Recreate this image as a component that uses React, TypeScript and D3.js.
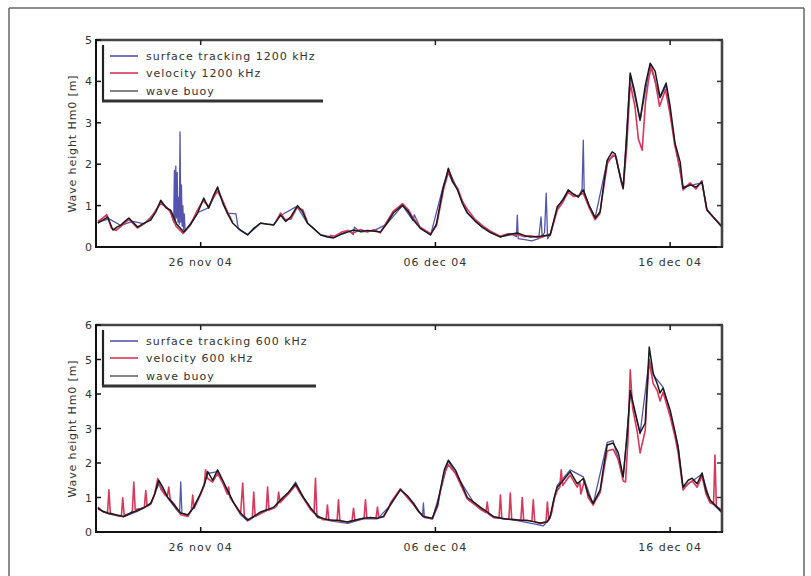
import React from "react";
import * as d3 from "d3";

// time in days relative to 26 nov 2004 00:00, value = Hm0 [m]
const xTickDays = [0, 10, 20];
const xTickLabels = ["26 nov 04", "06 dec 04", "16 dec 04"];
const xDomain = [-4.46, 22.21];

const legendTop = ["surface tracking 1200 kHz", "velocity 1200 kHz", "wave buoy"];
const legendBottom = ["surface tracking 600 kHz", "velocity 600 kHz", "wave buoy"];

const buoyTop: [number, number][] = [
  [-4.38,0.58],[-4.17,0.65],[-3.96,0.72],[-3.74,0.41],[-3.57,0.48],[-3.40,0.53],[-3.23,0.62],[-3.06,0.70],
  [-2.89,0.60],[-2.68,0.48],[-2.43,0.57],[-2.13,0.65],[-1.91,0.85],[-1.70,1.13],[-1.49,0.95],[-1.28,0.89],
  [-1.02,0.55],[-0.72,0.36],[-0.43,0.55],[-0.13,0.82],[0.13,1.18],[0.34,0.94],[0.55,1.25],[0.72,1.45],
  [0.94,1.06],[1.15,0.80],[1.36,0.58],[1.70,0.40],[2.00,0.29],[2.26,0.45],[2.55,0.58],[2.85,0.55],
  [3.11,0.53],[3.40,0.77],[3.62,0.62],[3.83,0.72],[4.13,1.00],[4.34,0.85],[4.55,0.58],[4.81,0.45],
  [5.11,0.29],[5.40,0.24],[5.66,0.22],[5.96,0.30],[6.26,0.36],[6.51,0.41],[6.81,0.38],[7.11,0.40],
  [7.40,0.38],[7.66,0.36],[7.91,0.55],[8.21,0.82],[8.60,1.01],[8.85,0.85],[9.06,0.65],[9.36,0.45],
  [9.79,0.29],[10.04,0.55],[10.34,1.45],[10.47,1.70],[10.55,1.90],[10.72,1.60],[10.94,1.38],[11.15,1.05],
  [11.36,0.82],[11.70,0.62],[12.04,0.46],[12.34,0.35],[12.77,0.24],[13.11,0.30],[13.49,0.34],[13.79,0.28],
  [14.04,0.24],[14.47,0.26],[14.89,0.29],[15.19,0.97],[15.45,1.15],[15.66,1.38],[15.87,1.28],[16.09,1.21],
  [16.30,1.38],[16.55,1.00],[16.81,0.70],[17.02,0.85],[17.19,1.60],[17.32,2.10],[17.53,2.30],[17.66,2.25],
  [17.87,1.70],[18.00,1.42],[18.13,2.50],[18.30,4.20],[18.47,3.80],[18.72,3.07],[18.94,3.90],[19.15,4.44],
  [19.36,4.25],[19.57,3.62],[19.83,3.96],[20.00,3.40],[20.21,2.50],[20.43,2.05],[20.55,1.42],[20.85,1.50],
  [21.11,1.45],[21.36,1.57],[21.57,0.89],[21.87,0.70],[22.21,0.48],
];

const velocityTop: [number, number | null][] = [
  [-4.38,0.62],[-4.17,0.70],[-4.0,0.78],[-3.8,0.45],[-3.6,0.40],[-3.4,0.50],[-3.2,0.60],[-3.05,0.66],
  [-2.9,0.58],[-2.7,0.46],[-2.45,0.55],[-2.15,0.68],[-1.9,0.90],[-1.7,1.05],[-1.5,0.98],[-1.3,0.85],
  [-1.05,0.50],[-0.75,0.33],[-0.45,0.52],[-0.15,0.88],[0.1,1.12],[0.35,0.98],[0.55,1.20],[0.72,1.35],
  [0.95,1.10],[1.15,0.84],[1.36,0.60],[1.37,null],
  [3.2,0.60],[3.4,0.82],[3.6,0.66],[3.85,0.68],[4.1,0.95],[4.35,0.90],[4.55,0.60],[4.56,null],
  [5.5,0.28],[5.7,0.26],[6.0,0.36],[6.25,0.40],[6.5,0.34],[6.8,0.42],[7.1,0.36],[7.4,0.42],[7.65,0.34],
  [7.9,0.58],[8.2,0.86],[8.6,1.05],[8.85,0.90],[9.05,0.70],[9.35,0.48],[9.8,0.32],[10.05,0.52],
  [10.35,1.40],[10.55,1.80],[10.75,1.55],[10.95,1.42],[11.15,1.10],[11.4,0.88],[11.7,0.66],[12.05,0.50],
  [12.35,0.38],[12.75,0.26],[13.1,0.32],[13.5,0.30],[13.8,0.25],[14.05,0.27],[14.45,0.22],[14.9,0.32],
  [15.2,0.90],[15.45,1.10],[15.65,1.32],[15.9,1.22],[16.1,1.25],[16.3,1.30],[16.55,0.95],[16.8,0.66],
  [17.0,0.80],[17.2,1.55],[17.33,2.02],[17.55,2.22],[17.7,2.18],[17.9,1.62],[18.0,1.40],[18.15,2.40],
  [18.3,3.95],[18.5,3.40],[18.65,2.60],[18.81,2.34],[18.95,3.50],[19.1,4.10],[19.2,4.35],[19.35,4.05],
  [19.55,3.40],[19.8,3.80],[20.0,3.20],[20.2,2.45],[20.4,1.95],[20.55,1.38],[20.85,1.55],[21.1,1.40],
  [21.35,1.60],[21.55,0.92],[21.85,0.72],[22.21,0.50],
];

const surfaceTop: [number, number][] = [
  [-4.38,0.60],[-3.9,0.68],[-3.4,0.52],[-2.9,0.62],[-2.4,0.56],[-1.9,0.86],[-1.7,1.10],[-1.3,0.88],
  [-1.15,0.60],[-1.12,1.85],[-1.09,0.65],[-1.06,1.95],[-1.03,0.70],[-1.0,1.80],[-0.97,0.60],[-0.94,1.20],
  [-0.91,0.55],[-0.88,2.78],[-0.85,0.60],[-0.82,1.50],[-0.79,0.50],[-0.76,1.00],[-0.73,0.42],[-0.70,0.80],
  [-0.66,0.38],[-0.45,0.56],[-0.1,0.84],[0.35,0.95],[0.72,1.42],[1.15,0.82],
  [1.5,0.80],[1.6,0.45],[2.0,0.30],[2.55,0.57],[3.1,0.54],[3.4,0.76],[4.1,0.98],[4.55,0.57],[5.1,0.30],
  [5.66,0.23],[6.3,0.40],[6.5,0.30],[6.55,0.48],[6.8,0.36],[7.4,0.40],[7.9,0.54],[8.6,1.00],[9.05,0.64],
  [9.1,0.78],[9.36,0.46],[9.8,0.30],[10.3,1.40],[10.55,1.88],[10.95,1.38],[11.36,0.83],[12.0,0.47],
  [12.77,0.25],[13.3,0.30],[13.45,0.25],[13.49,0.77],[13.53,0.20],[13.8,0.18],[14.1,0.15],[14.4,0.20],
  [14.5,0.73],[14.55,0.25],[14.65,0.35],[14.72,1.30],[14.78,0.20],[14.9,0.30],[15.2,0.95],[15.66,1.36],
  [16.09,1.20],[16.25,1.40],[16.3,2.58],[16.34,1.30],[16.55,1.00],[16.81,0.72],[17.32,2.08],[17.66,2.22],
  [18.0,1.44],[18.3,4.15],[18.72,3.05],[19.15,4.40],[19.57,3.60],[19.83,3.90],[20.21,2.48],[20.55,1.45],
  [21.36,1.55],[21.57,0.90],[22.21,0.48],
];

const buoyBottom: [number, number][] = [
  [-4.38,0.69],[-4.17,0.60],[-3.96,0.55],[-3.62,0.50],[-3.28,0.45],[-2.98,0.55],[-2.68,0.63],[-2.43,0.70],
  [-2.13,0.83],[-1.96,1.10],[-1.79,1.50],[-1.62,1.30],[-1.40,1.00],[-1.15,0.80],[-0.85,0.55],[-0.55,0.50],
  [-0.30,0.70],[0.00,1.13],[0.17,1.40],[0.30,1.75],[0.51,1.50],[0.72,1.80],[0.94,1.50],[1.15,1.20],
  [1.40,0.85],[1.70,0.55],[2.00,0.35],[2.26,0.45],[2.55,0.58],[2.85,0.65],[3.11,0.72],[3.40,0.93],
  [3.74,1.15],[4.04,1.40],[4.21,1.20],[4.38,1.00],[4.68,0.70],[4.98,0.45],[5.28,0.38],[5.53,0.35],
  [5.96,0.33],[6.26,0.29],[6.60,0.35],[6.94,0.40],[7.23,0.42],[7.53,0.40],[7.79,0.45],[8.09,0.80],
  [8.51,1.22],[8.81,1.05],[9.06,0.83],[9.28,0.60],[9.49,0.45],[9.87,0.40],[10.09,0.80],[10.21,1.22],
  [10.38,1.80],[10.55,2.08],[10.85,1.80],[11.11,1.40],[11.36,1.00],[11.66,0.85],[11.91,0.72],[12.21,0.58],
  [12.47,0.45],[12.98,0.38],[13.49,0.35],[13.96,0.33],[14.47,0.26],[14.77,0.30],[14.89,0.45],[15.06,1.00],
  [15.19,1.30],[15.45,1.50],[15.74,1.75],[16.04,1.40],[16.30,1.55],[16.51,1.10],[16.72,0.83],[17.02,1.22],
  [17.19,2.00],[17.32,2.52],[17.57,2.58],[17.79,2.30],[18.00,1.60],[18.17,2.80],[18.30,4.10],[18.47,3.60],
  [18.72,2.87],[18.94,3.16],[19.02,4.20],[19.11,5.36],[19.28,4.60],[19.45,4.30],[19.57,4.03],[19.70,4.17],
  [20.00,3.54],[20.21,2.90],[20.34,2.46],[20.55,1.30],[20.77,1.50],[20.94,1.56],[21.15,1.40],[21.36,1.71],
  [21.53,1.20],[21.70,0.93],[21.96,0.75],[22.21,0.58],
];

const velocityBottom: [number, number][] = [
  [-4.38,0.72],[-4.15,0.58],[-3.97,0.55],[-3.91,1.22],[-3.85,0.55],[-3.6,0.48],[-3.38,0.46],[-3.32,0.99],
  [-3.26,0.48],[-2.98,0.55],[-2.91,0.62],[-2.85,1.45],[-2.79,0.65],[-2.55,0.68],[-2.40,0.72],[-2.34,1.20],
  [-2.28,0.75],[-2.1,0.85],[-1.96,1.10],[-1.83,1.55],[-1.7,1.25],[-1.5,1.05],[-1.42,1.05],[-1.36,1.30],
  [-1.30,0.95],[-1.1,0.78],[-0.85,0.50],[-0.55,0.45],[-0.40,0.62],[-0.34,1.07],[-0.28,0.68],[0.0,1.10],
  [0.15,1.35],[0.21,1.80],[0.30,1.55],[0.51,1.45],[0.72,1.70],[0.94,1.42],[1.13,1.10],[1.19,1.30],
  [1.25,1.00],[1.45,0.80],[1.70,0.52],[1.79,1.42],[1.86,0.45],[2.05,0.34],[2.20,0.42],[2.26,1.16],
  [2.32,0.45],[2.6,0.55],[2.79,0.62],[2.85,1.30],[2.91,0.64],[3.15,0.70],[3.26,0.78],[3.32,1.16],
  [3.38,0.85],[3.74,1.10],[4.04,1.35],[4.21,1.15],[4.4,0.95],[4.68,0.65],[4.83,0.55],[4.89,1.56],
  [4.95,0.50],[5.2,0.36],[5.34,0.36],[5.40,0.78],[5.46,0.35],[5.81,0.32],[5.87,0.93],[5.93,0.31],
  [6.26,0.29],[6.45,0.33],[6.51,0.69],[6.57,0.34],[6.96,0.40],[7.02,0.93],[7.08,0.41],[7.47,0.40],
  [7.53,0.72],[7.59,0.42],[7.8,0.45],[8.0,0.68],[8.09,0.85],[8.5,1.25],[8.8,1.00],[9.06,0.80],
  [9.3,0.58],[9.5,0.44],[9.87,0.38],[10.1,0.75],[10.2,1.15],[10.38,1.70],[10.55,1.95],[10.85,1.70],
  [11.11,1.32],[11.36,0.95],[11.66,0.80],[11.91,0.66],[12.15,0.56],[12.21,0.87],[12.27,0.52],[12.5,0.42],
  [12.71,0.40],[12.77,1.07],[12.83,0.39],[13.13,0.38],[13.19,1.13],[13.25,0.37],[13.64,0.35],[13.70,1.00],
  [13.76,0.34],[14.11,0.32],[14.17,0.93],[14.23,0.30],[14.47,0.24],[14.71,0.28],[14.77,0.87],[14.83,0.35],
  [14.95,0.55],[15.06,0.95],[15.19,1.20],[15.3,1.30],[15.36,1.80],[15.42,1.35],[15.74,1.65],[16.04,1.30],
  [16.15,1.45],[16.2,1.10],[16.35,1.50],[16.51,1.00],[16.72,0.78],[16.85,0.95],[17.02,1.15],[17.19,1.85],
  [17.32,2.35],[17.57,2.40],[17.79,2.10],[18.0,1.48],[18.1,1.45],[18.2,2.60],[18.3,4.70],[18.4,3.60],
  [18.6,2.90],[18.72,2.29],[18.94,2.95],[19.02,4.00],[19.11,4.95],[19.28,4.30],[19.45,4.10],[19.57,3.80],
  [19.7,4.05],[20.0,3.35],[20.21,2.75],[20.34,2.30],[20.55,1.22],[20.77,1.40],[20.94,1.48],[21.15,1.30],
  [21.36,1.62],[21.53,1.10],[21.70,0.85],[21.85,0.80],[21.91,2.23],[21.97,0.75],[22.21,0.62],
];

const surfaceBottom: [number, number][] = [
  [-4.38,0.66],[-3.9,0.52],[-3.3,0.44],[-2.7,0.60],[-2.13,0.80],[-1.79,1.40],[-1.40,0.98],[-1.0,0.62],
  [-0.9,0.55],[-0.85,1.45],[-0.80,0.55],[-0.55,0.46],[0.0,1.10],[0.30,1.70],[0.72,1.75],[1.15,1.15],
  [1.70,0.50],[2.0,0.32],[2.55,0.55],[3.11,0.70],[3.74,1.12],[4.04,1.45],[4.38,1.00],[4.98,0.42],
  [5.53,0.32],[6.26,0.25],[6.94,0.38],[7.53,0.38],[8.09,0.78],[8.51,1.25],[9.06,0.85],[9.45,0.45],
  [9.49,0.84],[9.53,0.42],[9.87,0.38],[10.21,1.18],[10.55,2.05],[11.11,1.42],[11.66,0.82],[12.47,0.42],
  [13.49,0.33],[14.3,0.22],[14.6,0.18],[14.89,0.40],[15.19,1.35],[15.74,1.80],[16.30,1.60],[16.72,0.80],
  [17.32,2.60],[17.57,2.65],[18.0,1.58],[18.3,4.00],[18.72,2.85],[19.11,5.0],[19.28,4.55],[19.70,4.20],
  [20.34,2.50],[20.55,1.28],[21.36,1.68],[21.70,0.90],[22.21,0.55],
];

const COL_SURF = "#5454ac";
const COL_VEL = "#d8385a";
const COL_BUOY = "#1a1a1a";
const FONT = "'DejaVu Sans', sans-serif";

type PanelProps = {
  top: number;
  bottom: number;
  yMax: number;
  surface: [number, number | null][];
  velocity: [number, number | null][];
  buoy: [number, number | null][];
  legend: string[];
};

const LEFT = 96;
const RIGHT = 722;

function Panel({ top, bottom, yMax, surface, velocity, buoy, legend }: PanelProps) {
  const x = d3.scaleLinear().domain(xDomain).range([LEFT, RIGHT]);
  const y = d3.scaleLinear().domain([0, yMax]).range([bottom, top]);
  const line = d3
    .line<[number, number | null]>()
    .defined((d) => d[1] !== null)
    .x((d) => x(d[0]))
    .y((d) => y(d[1] as number));
  const yTicks = d3.range(0, yMax + 1);
  const txt = { fontFamily: FONT, fontSize: 11, letterSpacing: 1.0, fill: "#333" } as const;
  const legY = [top + 16, top + 33, top + 51];
  const legCols = [COL_SURF, COL_VEL, "#666"];
  const midY = (top + bottom) / 2;
  return (
    <g>
      <defs>
        <clipPath id={`clip${top}`}>
          <rect x={LEFT} y={top} width={RIGHT - LEFT} height={bottom - top} />
        </clipPath>
      </defs>
      <g clipPath={`url(#clip${top})`}>
        <path d={line(surface) || ""} fill="none" stroke={COL_SURF} strokeWidth={1.3} strokeLinejoin="round" />
        <path d={line(velocity) || ""} fill="none" stroke={COL_VEL} strokeWidth={1.6} strokeLinejoin="round" />
        <path d={line(buoy) || ""} fill="none" stroke={COL_BUOY} strokeWidth={1.5} strokeLinejoin="round" />
      </g>
      {/* axes box */}
      <line x1={LEFT} x2={RIGHT + 1} y1={top} y2={top} stroke="#444" strokeWidth={2.6} />
      <line x1={RIGHT} x2={RIGHT} y1={top} y2={bottom} stroke="#444" strokeWidth={2.6} />
      <line x1={LEFT} x2={LEFT} y1={top - 1} y2={bottom} stroke="#111" strokeWidth={2} />
      <line x1={LEFT - 1} x2={RIGHT + 1} y1={bottom} y2={bottom} stroke="#111" strokeWidth={2.2} />
      {/* y ticks */}
      {yTicks.map((t) => (
        <g key={`y${t}`}>
          <line x1={LEFT} x2={LEFT + 5} y1={y(t)} y2={y(t)} stroke="#111" strokeWidth={1.5} />
          <line x1={RIGHT - 5} x2={RIGHT} y1={y(t)} y2={y(t)} stroke="#333" strokeWidth={1.5} />
          <text x={92} y={y(t) + 4} textAnchor="end" {...txt} letterSpacing={0}>
            {t}
          </text>
        </g>
      ))}
      {/* x ticks */}
      {xTickDays.map((d, i) => (
        <g key={`x${d}`}>
          <line x1={x(d)} x2={x(d)} y1={bottom} y2={bottom - 5} stroke="#111" strokeWidth={1.5} />
          <line x1={x(d)} x2={x(d)} y1={top} y2={top + 5} stroke="#222" strokeWidth={1.5} />
          <text x={x(d)} y={bottom + 19} textAnchor="middle" {...txt}>
            {xTickLabels[i]}
          </text>
        </g>
      ))}
      {/* y label */}
      <text
        transform={`translate(76,${midY}) rotate(-90)`}
        textAnchor="middle"
        {...txt}
        letterSpacing={0.9}
      >
        Wave height Hm0 [m]
      </text>
      {/* legend */}
      <line x1={103} x2={103} y1={top + 5} y2={legY[2] + 10} stroke="#222" strokeWidth={2.2} />
      <line x1={102} x2={legend[0].length > 24 ? 323 : 316} y1={legY[2] + 10} y2={legY[2] + 10} stroke="#333" strokeWidth={3} />
      {legend.map((s, i) => (
        <g key={s}>
          <line x1={110} x2={138} y1={legY[i]} y2={legY[i]} stroke={legCols[i]} strokeWidth={1.6} />
          <text x={146} y={legY[i] + 4} {...txt}>
            {s}
          </text>
        </g>
      ))}
    </g>
  );
}

export default function App() {
  return (
    <svg
      width={811}
      height={576}
      style={{ position: "absolute", left: 0, top: 0, background: "#fff" }}
    >
      <rect x={0} y={0} width={811} height={576} fill="#fff" />
      {/* figure frame */}
      <line x1={9} x2={804} y1={8} y2={8} stroke="#666" strokeWidth={1.5} />
      <line x1={9} x2={9} y1={8} y2={576} stroke="#666" strokeWidth={1.5} />
      <line x1={804} x2={804} y1={8} y2={576} stroke="#666" strokeWidth={1.5} />
      <Panel
        top={40}
        bottom={247}
        yMax={5}
        surface={surfaceTop}
        velocity={velocityTop}
        buoy={buoyTop}
        legend={legendTop}
      />
      <Panel
        top={325}
        bottom={532}
        yMax={6}
        surface={surfaceBottom}
        velocity={velocityBottom}
        buoy={buoyBottom}
        legend={legendBottom}
      />
    </svg>
  );
}
